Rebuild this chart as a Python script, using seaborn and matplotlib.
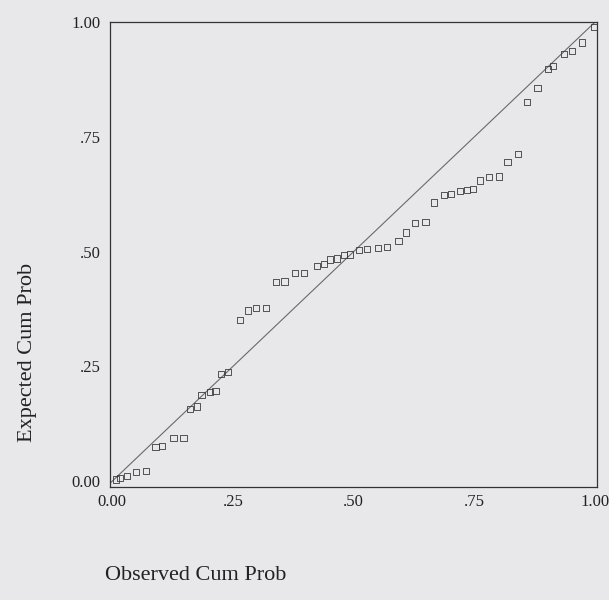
import matplotlib
matplotlib.use('Agg')
import matplotlib.pyplot as plt
import seaborn as sns
import pandas as pd

# P-P plot values
observed = [0.008, 0.016, 0.031, 0.049, 0.070,
            0.090, 0.103, 0.127, 0.148,
            0.162, 0.175,
            0.185, 0.203, 0.214,
            0.226, 0.240,
            0.265, 0.281, 0.298, 0.318,
            0.339, 0.357,
            0.378, 0.398,
            0.425, 0.439,
            0.452, 0.466, 0.480, 0.493,
            0.511, 0.528,
            0.550, 0.569,
            0.593, 0.608,
            0.628, 0.649,
            0.667, 0.688, 0.702,
            0.721, 0.735, 0.747,
            0.762, 0.780, 0.801,
            0.819, 0.840,
            0.860, 0.881, 0.903, 0.914, 0.936, 0.953, 0.973, 0.998]
expected = [0.004, 0.007, 0.011, 0.020, 0.022,
            0.074, 0.076, 0.094, 0.095,
            0.158, 0.163,
            0.187, 0.194, 0.196,
            0.234, 0.238,
            0.352, 0.372, 0.377, 0.377,
            0.434, 0.435,
            0.453, 0.453,
            0.469, 0.473,
            0.483, 0.485, 0.492, 0.494,
            0.503, 0.506,
            0.508, 0.511,
            0.523, 0.542,
            0.563, 0.565,
            0.607, 0.623, 0.625,
            0.632, 0.635, 0.637,
            0.655, 0.662, 0.664,
            0.695, 0.713,
            0.827, 0.856, 0.898, 0.904, 0.931, 0.938, 0.956, 0.989]

tick_vals = [0.0, 0.25, 0.5, 0.75, 1.0]
tick_labels = ['0.00', '.25', '.50', '.75', '1.00']


def main():
    sns.set_style('white')
    plt.rcParams['font.family'] = ['Liberation Serif', 'DejaVu Serif']
    bg = '#e8e8ea'
    fig = plt.figure(figsize=(6.09, 6.0), dpi=100, facecolor=bg)
    ax = fig.add_axes([0.181, 0.188, 0.799, 0.775])
    ax.set_facecolor(bg)

    df = pd.DataFrame({'obs': observed, 'exp': expected})
    ax.axline((0, 0), slope=1, color='#6a6a6a', lw=0.8, zorder=1)
    sns.scatterplot(data=df, x='obs', y='exp', ax=ax, marker='s', s=20,
                    facecolor='none', edgecolor='#3a3a3a', linewidth=0.6,
                    zorder=2, legend=False)

    ax.set_xlim(-0.004, 1.004)
    ax.set_ylim(-0.013, 1.0)
    ax.set_xticks(tick_vals)
    ax.set_xticklabels(tick_labels)
    ax.set_yticks(tick_vals)
    ax.set_yticklabels(tick_labels)
    ax.tick_params(axis='both', labelsize=12, colors='#222222',
                   direction='out', length=4, width=0.8)
    ax.tick_params(axis='x', pad=1)
    ax.tick_params(axis='y', pad=3)
    for sp in ax.spines.values():
        sp.set_color('#333333')
        sp.set_linewidth(0.9)
    ax.set_xlabel('')
    ax.set_ylabel('')

    fig.text(28 / 609, 1 - 352 / 600, 'Expected Cum Prob', rotation=90,
             ha='center', va='center', fontsize=16, color='#222222')
    fig.text(105 / 609, 1 - 576 / 600, 'Observed Cum Prob',
             ha='left', va='center', fontsize=16, color='#222222')

    fig.savefig('out.png', dpi=100, facecolor=bg)
    plt.close(fig)


if __name__ == '__main__':
    main()
